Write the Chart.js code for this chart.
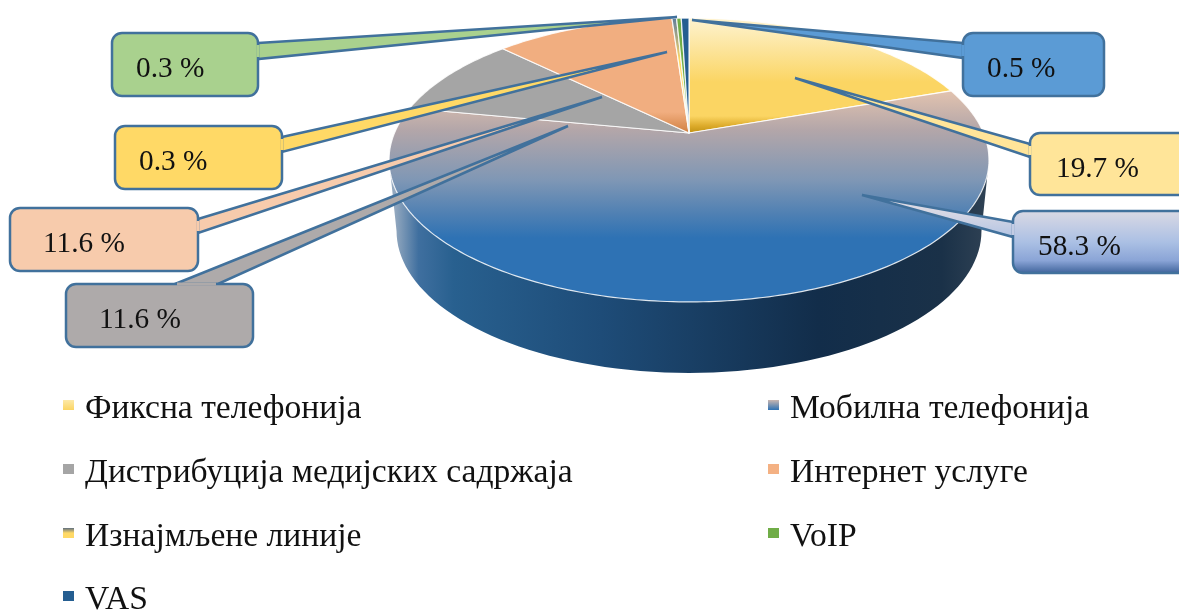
<!DOCTYPE html>
<html>
<head>
<meta charset="utf-8">
<script src="https://cdn.jsdelivr.net/npm/chart.js@4"></script>
<style>
  html, body { margin: 0; background: #fff; overflow: hidden; }
  canvas { display: block; }
</style>
</head>
<body>
<canvas id="pieChart" width="1179" height="610"></canvas>
<script>
// =====> data <=====
const categories = [
  "Фиксна телефонија",
  "Мобилна телефонија",
  "Дистрибуција медијских садржаја",
  "Интернет услуге",
  "Изнајмљене линије",
  "VoIP",
  "VAS",
];
// slice sizes as drawn (the grey slice is drawn smaller than its printed label)
const sliceValues = [19.7, 58.3, 9.3, 11.6, 0.3, 0.3, 0.5];
const printedLabels = ["19.7 %", "58.3 %", "11.6 %", "11.6 %", "0.3 %", "0.3 %", "0.5 %"];
const sliceColors = ["#fbd563", "#2e72b4", "#a5a5a5", "#f1ae80", "#ffd966", "#70ad47", "#255e91"];

// =====> look of the fake 3D pie <=====
const pie = { cx: 689, cy: 133, a: 294.5, b: 136.8, k: 0.19, depth: 71, bottomScale: 0.975 };

// stops are [screen y, colour]
const sliceGradients = [
  [[18, "#fef3d0"], [50, "#fce49a"], [82, "#fbd563"], [116, "#fbd563"], [126, "#dcaa2a"], [134, "#bd8e10"]],
  [[88, "#e6c5af"], [130, "#b3a6a9"], [180, "#7f97b5"], [214, "#4f80b3"], [238, "#2e72b4"], [302, "#2e72b4"]],
  [[18, "#a5a5a5"], [134, "#a5a5a5"]],
  [[18, "#f1ae80"], [112, "#f1ae80"], [134, "#cf7d3d"]],
  [[18, "#5f7d9c"], [60, "#ffd966"], [134, "#ffd966"]],
  [[18, "#70ad47"], [134, "#70ad47"]],
  [[18, "#255e91"], [134, "#255e91"]],
];
const wallStops = [
  [0, "#93a8bf"], [0.04, "#3f6f9f"], [0.1, "#28608f"], [0.35, "#1e4c78"],
  [0.72, "#122d4a"], [0.93, "#1a3148"], [1, "#2d4053"],
];

// =====> callouts: box, pointer base, pointer tip, text start <=====
const callouts = [
  { slice: 5, fill: "#a9d18e", box: [112, 33, 146, 63], base: [[258, 43], [258, 59]], tip: [677, 17], text: [136, 77] },
  { slice: 4, fill: "#ffd966", box: [115, 126, 167, 63], base: [[282, 137], [282, 152]], tip: [667, 52], text: [139, 170] },
  { slice: 3, fill: "#f7cbac", box: [10, 208, 188, 63], base: [[198, 219], [198, 233]], tip: [602, 97], text: [43, 252] },
  { slice: 2, fill: "#aeaaaa", box: [66, 284, 187, 63], base: [[175, 284], [218, 284]], tip: [568, 126], text: [99, 328] },
  { slice: 6, fill: "#5b9bd5", box: [963, 33, 141, 63], base: [[963, 43], [963, 58]], tip: [692, 20], text: [987, 77] },
  { slice: 0, fill: "#ffe599", box: [1030, 133, 190, 62], base: [[1030, 144], [1030, 157]], tip: [795, 78], text: [1056, 177] },
  { slice: 1, fill: [[0, "#dad9e4"], [0.5, "#abc0e4"], [0.8, "#8aa4d6"], [1, "#41659d"]], box: [1013, 211, 200, 62], base: [[1013, 222], [1013, 237]], tip: [862, 195], text: [1038, 255] },
];
const legendRows = [
  [63, 405], [768, 405], [63, 469], [768, 469], [63, 533], [768, 533], [63, 596],
];
const legendSwatches = [
  [[0, "#fde9a8"], [1, "#fbd563"]],
  [[0, "#c9b6b0"], [1, "#2e72b4"]],
  [[0, "#a5a5a5"], [1, "#a5a5a5"]],
  [[0, "#f4b183"], [1, "#f4b183"]],
  [[0, "#5f6f80"], [0.5, "#ffd966"], [1, "#ffd966"]],
  [[0, "#70ad47"], [1, "#70ad47"]],
  [[0, "#255e91"], [1, "#255e91"]],
];

// circle angle (0 = back of the pie, clockwise) to screen
function project(theta) {
  let u = Math.sin(theta);
  let v = Math.cos(theta);
  let w = 1 + pie.k * v;
  return [pie.cx + (pie.a * u) / w, pie.cy - (pie.b * v) / w];
}

function verticalGradient(ctx, y0, y1, stops) {
  let g = ctx.createLinearGradient(0, y0, 0, y1);
  stops.forEach((s) => g.addColorStop(s[0], s[1]));
  return g;
}

function sliceGradient(ctx, stops) {
  let y0 = stops[0][0];
  let y1 = stops[stops.length - 1][0];
  return verticalGradient(ctx, y0, y1, stops.map((s) => [(s[0] - y0) / (y1 - y0), s[1]]));
}

function drawWall(ctx) {
  let from = (101 * Math.PI) / 180;
  let to = (259 * Math.PI) / 180;
  let steps = 80;
  let grad = ctx.createLinearGradient(pie.cx - 294, 0, pie.cx + 294, 0);
  wallStops.forEach((s) => grad.addColorStop(s[0], s[1]));

  ctx.beginPath();
  let first = project(to);
  ctx.moveTo(first[0], first[1]);
  for (let i = 0; i <= steps; i++) {
    let p = project(to + ((from - to) * i) / steps);
    let x = pie.cx + (p[0] - pie.cx) * pie.bottomScale;
    ctx.lineTo(x, p[1] + pie.depth);
  }
  let last = project(from);
  ctx.lineTo(last[0], last[1]);
  ctx.closePath();
  ctx.fillStyle = grad;
  ctx.fill();
}

function drawSlice(ctx, arc, index) {
  // chart.js angles start at -90deg, so the arc element gives us the sweep directly
  let start = arc.startAngle + Math.PI / 2;
  let end = arc.endAngle + Math.PI / 2;
  let steps = Math.max(2, Math.ceil((end - start) * 60));

  ctx.beginPath();
  ctx.moveTo(pie.cx, pie.cy);
  for (let i = 0; i <= steps; i++) {
    let p = project(start + ((end - start) * i) / steps);
    ctx.lineTo(p[0], p[1]);
  }
  ctx.closePath();
  ctx.fillStyle = sliceGradient(ctx, sliceGradients[index]);
  ctx.fill();
  ctx.lineWidth = 1.2;
  ctx.lineJoin = "round";
  ctx.strokeStyle = "rgba(255,255,255,0.85)";
  ctx.stroke();
}

function roundedBox(ctx, box, radius) {
  ctx.beginPath();
  ctx.roundRect(box[0], box[1], box[2], box[3], radius);
}

function drawCallout(ctx, item, label) {
  let fill = item.fill;
  if (Array.isArray(fill)) {
    fill = verticalGradient(ctx, item.box[1], item.box[1] + item.box[3], item.fill);
  }
  ctx.strokeStyle = "#41719c";
  ctx.lineWidth = 2.5;
  ctx.lineJoin = "miter";

  // pointer first, the box then covers its base
  ctx.beginPath();
  ctx.moveTo(item.base[0][0], item.base[0][1]);
  ctx.lineTo(item.tip[0], item.tip[1]);
  ctx.lineTo(item.base[1][0], item.base[1][1]);
  ctx.closePath();
  ctx.fillStyle = fill;
  ctx.fill();
  ctx.stroke();

  roundedBox(ctx, item.box, 10);
  ctx.fill();
  ctx.stroke();

  // open the outline where pointer joins the box, a bit shorter than the base
  let horizontal = item.base[0][1] === item.base[1][1];
  ctx.beginPath();
  if (horizontal) {
    ctx.moveTo(item.base[0][0] + 2, item.base[0][1]);
    ctx.lineTo(item.base[1][0] - 2, item.base[1][1]);
  } else {
    ctx.moveTo(item.base[0][0], item.base[0][1] + 2);
    ctx.lineTo(item.base[1][0], item.base[1][1] - 2);
  }
  ctx.strokeStyle = Array.isArray(item.fill) ? "#c3cce4" : item.fill;
  ctx.lineWidth = 3;
  ctx.stroke();

  ctx.fillStyle = "#111";
  ctx.font = '29.3px "Liberation Serif"';
  ctx.textAlign = "left";
  ctx.textBaseline = "alphabetic";
  ctx.fillText(label, item.text[0], item.text[1]);
}

function drawLegend(ctx, labels) {
  labels.forEach((label, i) => {
    let x = legendRows[i][0];
    let y = legendRows[i][1];
    ctx.fillStyle = verticalGradient(ctx, y - 5, y + 5, legendSwatches[i]);
    ctx.fillRect(x, y - 5, 11, 10);
    ctx.fillStyle = "#111";
    ctx.font = '33.6px "Liberation Serif"';
    ctx.textAlign = "left";
    ctx.textBaseline = "alphabetic";
    ctx.fillText(label, x + 22, y + 13);
  });
}

const pie3d = {
  id: "pie3d",
  beforeDatasetsDraw(chart) {
    let ctx = chart.ctx;
    let arcs = chart.getDatasetMeta(0).data;
    ctx.save();
    drawWall(ctx);
    arcs.forEach((arc, i) => drawSlice(ctx, arc, i));
    callouts.forEach((item) => drawCallout(ctx, item, printedLabels[item.slice]));
    drawLegend(ctx, chart.data.labels);
    ctx.restore();
    return false; // the flat arcs are replaced by the projected ones
  },
};

new Chart("pieChart", {
  type: "pie",
  data: {
    labels: categories,
    datasets: [{ data: sliceValues, backgroundColor: sliceColors, borderWidth: 0 }],
  },
  options: {
    responsive: false,
    animation: false,
    plugins: {
      legend: { display: false },
      tooltip: { enabled: false },
    },
  },
  plugins: [pie3d],
});
</script>
</body>
</html>
